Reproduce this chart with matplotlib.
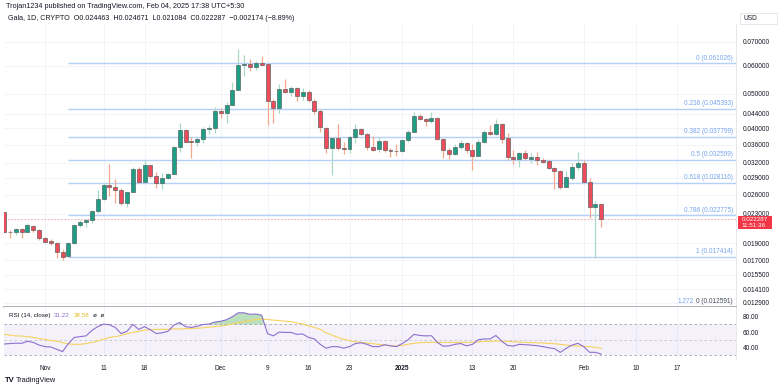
import numpy as np
import pandas as pd
import matplotlib
matplotlib.use("Agg")
import matplotlib.pyplot as plt
import matplotlib.dates as mdates
from matplotlib.ticker import FixedLocator, FixedFormatter, NullLocator
from matplotlib.patches import Rectangle

plt.rcParams['font.family'] = ['Liberation Sans', 'DejaVu Sans']

# ---------------- data ----------------
dates = pd.date_range('2024-10-25', '2025-02-04', freq='D')

opens = [0.02321, 0.02050, 0.02041, 0.02079, 0.02041, 0.02128, 0.02070,
         0.01961, 0.01927, 0.01899, 0.01798, 0.01745, 0.01899, 0.02138, 0.02180, 0.02208, 0.02345, 0.02525,
         0.02765, 0.02729, 0.02682, 0.02461, 0.02643, 0.03073, 0.02831, 0.03154, 0.02937, 0.02816, 0.02905,
         0.02980, 0.03535, 0.03957, 0.03685, 0.03654, 0.03726, 0.03975, 0.04002,
         0.04485, 0.04409, 0.04653, 0.05128, 0.06019, 0.06070, 0.05965, 0.06109, 0.06058, 0.04785, 0.04573,
         0.05162, 0.05072, 0.05206, 0.04943, 0.05070, 0.04785, 0.04485, 0.04017, 0.03526, 0.03750, 0.03513,
         0.03492, 0.03789, 0.03975, 0.03856, 0.03537, 0.03492, 0.03685, 0.03476, 0.03461,
         0.03454, 0.03708, 0.03914, 0.04333, 0.04250, 0.04195, 0.04287, 0.03726, 0.03476, 0.03387, 0.03551,
         0.03644, 0.03476, 0.03350, 0.03654, 0.03914, 0.03856, 0.04114, 0.03750, 0.03328, 0.03273, 0.03416,
         0.03285, 0.03314, 0.03265, 0.03237, 0.03088, 0.03040, 0.02740, 0.02894, 0.03107,
         0.03201, 0.02831, 0.02398, 0.024463]
highs = [0.02326, 0.02070, 0.02101, 0.02093, 0.02161, 0.02138, 0.02083,
         0.01974, 0.01949, 0.01911, 0.01826, 0.01919, 0.02147, 0.02208, 0.02227, 0.02356, 0.02682, 0.02801,
         0.03175, 0.02880, 0.02712, 0.02653, 0.03120, 0.03107, 0.03258, 0.03160, 0.03020, 0.02989, 0.03000,
         0.03567, 0.04149, 0.03975, 0.03789, 0.03789, 0.04027, 0.04088, 0.04603,
         0.04555, 0.04755, 0.05413, 0.06677, 0.06434, 0.06257, 0.06201, 0.06393, 0.06060, 0.04828, 0.05332,
         0.05496, 0.05263, 0.05240, 0.05195, 0.05128, 0.04828, 0.04534, 0.04027, 0.03789, 0.04114, 0.03669,
         0.03806, 0.04114, 0.04001, 0.03873, 0.03806, 0.03774, 0.03708, 0.03513, 0.03607,
         0.03726, 0.03957, 0.04438, 0.04390, 0.04287, 0.04455, 0.04313, 0.03750, 0.03513, 0.03614, 0.03708,
         0.03669, 0.03607, 0.03726, 0.03957, 0.04088, 0.04241, 0.04133, 0.03873, 0.03476, 0.03438, 0.03476,
         0.03402, 0.03438, 0.03294, 0.03258, 0.03104, 0.03053, 0.03034, 0.03201, 0.03438,
         0.03258, 0.02894, 0.02502, 0.024671]
lows = [0.02030, 0.01964, 0.02000, 0.01961, 0.02040, 0.02047, 0.01940,
        0.01911, 0.01881, 0.01723, 0.01704, 0.01740, 0.01895, 0.02114, 0.02114, 0.02166, 0.02311, 0.02514,
        0.02580, 0.02461, 0.02434, 0.02407, 0.02640, 0.02801, 0.02825, 0.02894, 0.02712, 0.02700, 0.02875,
        0.02975, 0.03438, 0.03665, 0.03294, 0.03567, 0.03631, 0.03848, 0.03873,
        0.04269, 0.04133, 0.04650, 0.05120, 0.05616, 0.05812, 0.05838, 0.06020, 0.04088, 0.04133, 0.04409,
        0.05039, 0.04933, 0.04785, 0.04807, 0.04755, 0.04390, 0.03914, 0.03416, 0.02956, 0.03476, 0.03387,
        0.03402, 0.03631, 0.03831, 0.03476, 0.03461, 0.03438, 0.03438, 0.03328, 0.03343,
        0.03430, 0.03669, 0.03898, 0.04222, 0.04069, 0.04133, 0.03708, 0.03294, 0.03279, 0.03365, 0.03490,
        0.03416, 0.03053, 0.03340, 0.03631, 0.03831, 0.03831, 0.03631, 0.03258, 0.03168, 0.03104, 0.03258,
        0.03201, 0.03154, 0.03189, 0.03068, 0.02694, 0.02694, 0.02730, 0.02862, 0.03053,
        0.02820, 0.02232, 0.01730, 0.021084]
closes = [0.02039, 0.02043, 0.02079, 0.02041, 0.02134, 0.02070, 0.01961,
          0.01919, 0.01899, 0.01798, 0.01741, 0.01899, 0.02138, 0.02180, 0.02208, 0.02345, 0.02525, 0.02765,
          0.02740, 0.02682, 0.02461, 0.02643, 0.03073, 0.02831, 0.03154, 0.02943, 0.02816, 0.02899, 0.02975,
          0.03537, 0.03957, 0.03669, 0.03654, 0.03733, 0.03975, 0.04017, 0.04485,
          0.04409, 0.04653, 0.05128, 0.06031, 0.06070, 0.05965, 0.06121, 0.06042, 0.04785, 0.04573, 0.05152,
          0.05072, 0.05206, 0.04943, 0.05079, 0.04807, 0.04485, 0.04027, 0.03513, 0.03750, 0.03513, 0.03499,
          0.03789, 0.03975, 0.03856, 0.03537, 0.03484, 0.03685, 0.03476, 0.03454, 0.03448,
          0.03708, 0.03914, 0.04343, 0.04250, 0.04203, 0.04287, 0.03726, 0.03476, 0.03387, 0.03551, 0.03644,
          0.03476, 0.03350, 0.03654, 0.03914, 0.03856, 0.04114, 0.03733, 0.03328, 0.03273, 0.03416, 0.03294,
          0.03314, 0.03258, 0.03223, 0.03088, 0.03034, 0.02740, 0.02912, 0.03107, 0.03201,
          0.02831, 0.02398, 0.02446, 0.022287]

rsi = [44.4, 45.0, 45.5, 45.3, 48.0, 46.5, 43.0,
       41.0, 40.5, 37.5, 34.5, 45.0, 53.0, 54.0, 55.0, 62.0, 67.0, 70.3,
       69.5, 66.0, 58.0, 61.0, 69.8, 63.5, 67.0, 63.0, 58.0, 59.0, 61.0,
       69.0, 72.5, 67.0, 66.0, 67.5, 69.8, 70.3, 73.0,
       74.0, 76.0, 80.0, 85.0, 85.0, 83.0, 83.5, 82.0, 58.0, 55.0, 60.0,
       59.5, 59.5, 57.0, 57.5, 53.0, 51.0, 44.0, 39.0, 41.0, 41.0, 39.0,
       41.0, 45.0, 46.0, 44.0, 41.0, 41.0, 43.5, 42.0, 41.0,
       45.0, 50.0, 57.0, 55.5, 55.0, 55.2, 46.5, 41.5, 42.0, 44.0, 45.0,
       42.0, 44.0, 50.0, 51.0, 51.0, 55.5, 48.0, 42.5, 41.8, 44.0, 43.5,
       43.0, 42.2, 41.0, 39.5, 38.5, 33.6, 38.8, 43.0, 45.3,
       41.0, 33.6, 33.6, 31.22]
rsi_ma = [57.0, 56.0, 55.0, 54.8, 54.0, 53.0, 51.5,
          50.5, 49.0, 48.0, 46.0, 44.5, 44.0, 44.0, 45.0, 46.5, 48.3, 50.5,
          53.0, 54.0, 55.5, 58.0, 59.5, 61.0, 62.5, 63.0, 63.5, 63.5, 63.5,
          64.0, 64.0, 64.3, 64.7, 65.0, 65.5, 66.5, 67.0,
          67.8, 69.0, 70.5, 72.0, 73.5, 75.0, 76.3, 77.0, 76.3, 75.5, 75.0,
          74.0, 73.5, 72.0, 70.5, 68.0, 66.0, 63.5, 59.0, 56.0, 53.0, 50.5,
          48.7, 47.4, 46.5, 45.7, 44.8, 44.0, 43.1, 42.2, 41.8,
          42.6, 44.0, 45.3, 46.1, 46.5, 46.5, 46.5, 46.5, 46.5, 46.5, 46.5,
          46.6, 46.8, 47.2, 47.7, 48.0, 48.3, 48.2, 47.8, 47.4, 47.0, 46.5,
          46.3, 46.0, 45.7, 45.3, 44.8, 44.0, 43.1, 42.2, 41.8,
          41.3, 40.9, 40.0, 38.58]

fib_ratios = ['0', '0.236', '0.382', '0.5', '0.618', '0.786', '1']
fib_prices = [0.061026, 0.045393, 0.037799, 0.032599, 0.028116, 0.022775, 0.017414]
fib_start = '2024-11-05'
fib_ext_ratio = '1.272'
fib_ext_price = 0.012591

price_ticks = [0.070, 0.060, 0.050, 0.044, 0.040, 0.036, 0.032, 0.029, 0.026,
               0.023, 0.019, 0.017, 0.0155, 0.0141, 0.0129]
rsi_ticks = [80, 60, 40]
rsi_levels = [70, 50, 30]

date_ticks = ['2024-11-01', '2024-11-11', '2024-11-18', '2024-12-01', '2024-12-09',
              '2024-12-16', '2024-12-23', '2025-01-01', '2025-01-13', '2025-01-20',
              '2025-02-01', '2025-02-10', '2025-02-17']
date_labels = ['Nov', '11', '18', 'Dec', '9', '16', '23', '2025', '13', '20', 'Feb', '10', '17']

last_price = closes[-1]

# ---------------- style ----------------
UP = '#1f9e86'
DOWN = '#ef4b5b'
UP_WICK = '#a9d8c3'
DOWN_WICK = '#f4a98d'
EDGE = '#4f5b5b'
GRID = '#f0f3fa'
FIB_LINE = '#b5d0f6'
FIB_TXT = '#76a5ee'
TXT = '#131722'
FS = 4.7

W, H = 783, 388
fig = plt.figure(figsize=(W / 100, H / 100), dpi=100)
fig.patch.set_facecolor('white')


def frac(x0, y0, x1, y1):
    return [x0 / W, 1 - y1 / H, (x1 - x0) / W, (y1 - y0) / H]


ax = fig.add_axes(frac(4, 24, 736, 307))
axr = fig.add_axes(frac(4, 307, 736, 359), sharex=ax)

xd = mdates.date2num(dates)
o = np.array(opens); h = np.array(highs); l = np.array(lows); c = np.array(closes)
up = c >= o

x_left = mdates.date2num(pd.Timestamp('2024-10-25'))
x_right = mdates.date2num(pd.Timestamp('2025-02-27'))
tick_nums = mdates.date2num(pd.to_datetime(date_ticks))

# ---------------- price pane ----------------
ax.set_yscale('log')
ax.set_xlim(x_left, x_right)
ax.set_ylim(0.012569, 0.07866)

for t in price_ticks:
    ax.axhline(t, color=GRID, lw=0.6, zorder=0)
for t in tick_nums:
    ax.axvline(t, color=GRID, lw=0.6, zorder=0)

ax.vlines(xd[up], l[up], h[up], color=UP_WICK, lw=0.9, zorder=2)
ax.vlines(xd[~up], l[~up], h[~up], color=DOWN_WICK, lw=0.9, zorder=2)
bw = 0.68
ax.bar(xd[up], c[up] - o[up], bottom=o[up], width=bw, color=UP, edgecolor=EDGE, lw=0.45, zorder=3)
ax.bar(xd[~up], o[~up] - c[~up], bottom=c[~up], width=bw, color=DOWN, edgecolor=EDGE, lw=0.45, zorder=3)

# fib levels
fx0 = mdates.date2num(pd.Timestamp(fib_start))
for r_, p in zip(fib_ratios, fib_prices):
    ax.hlines(p, fx0, x_right, color=FIB_LINE, lw=1.0, zorder=1)
    ax.annotate(f'{r_} ({p:.6f})', xy=(1, p), xycoords=('axes fraction', 'data'),
                xytext=(-2.2, 1.2), textcoords='offset points', ha='right', va='bottom',
                fontsize=FS, color=FIB_TXT, zorder=4)
t0 = ax.annotate(f'0 ({fib_ext_price:.6f})', xy=(1, fib_ext_price), xycoords=('axes fraction', 'data'),
                 xytext=(-2.2, 1.4), textcoords='offset points', ha='right', va='bottom',
                 fontsize=FS, color='#4a4e5a', zorder=4)
ax.annotate(fib_ext_ratio, xy=(0, 0), xycoords=t0, xytext=(-1.5, 0), textcoords='offset points',
            ha='right', va='bottom', fontsize=FS, color=FIB_TXT, zorder=4)

# last price line
ax.axhline(last_price, color='#f59aa3', lw=0.6, ls=(0, (2, 2)), zorder=1)

ax.yaxis.tick_right()
ax.yaxis.set_major_locator(FixedLocator(price_ticks))
ax.yaxis.set_major_formatter(FixedFormatter([f'{t:.6f}' for t in price_ticks]))
ax.yaxis.set_minor_locator(NullLocator())
ax.tick_params(axis='y', length=0, pad=5, labelsize=FS, labelcolor=TXT)
ax.set_xticks(tick_nums)
ax.tick_params(axis='x', length=0, labelbottom=False)
for s in ['top', 'left']:
    ax.spines[s].set_visible(False)
ax.spines['right'].set_color('#e0e3eb')
ax.spines['right'].set_linewidth(0.6)
ax.spines['bottom'].set_color('#a3a6af')
ax.spines['bottom'].set_linewidth(1.2)

# ---------------- RSI pane ----------------
r = np.array(rsi)
axr.set_ylim(24.9, 92.6)
for t in tick_nums:
    axr.axvline(t, color=GRID, lw=0.6, zorder=0)
axr.fill_between([x_left, x_right], rsi_levels[2], rsi_levels[0], color='#7e57c2', alpha=0.08, lw=0, zorder=0)
for lv in rsi_levels:
    axr.axhline(lv, color='#a3a6af' if lv != 50 else '#c3c5cc', lw=0.6, ls=(0, (3, 3)), zorder=1)
axr.fill_between(xd, rsi_levels[0], r, where=r > rsi_levels[0], interpolate=True,
                 color='#4caf50', alpha=0.38, lw=0, zorder=2)
axr.plot(xd, rsi_ma, color='#f6d35e', lw=0.8, zorder=3)
axr.plot(xd, r, color='#8c6fd0', lw=0.8, zorder=4)

axr.yaxis.tick_right()
axr.set_yticks(rsi_ticks)
axr.set_yticklabels([f'{t:.2f}' for t in rsi_ticks])
axr.tick_params(axis='y', length=0, pad=5, labelsize=FS, labelcolor=TXT)
axr.set_xticks(tick_nums)
axr.set_xticklabels(date_labels)
axr.tick_params(axis='x', length=0, pad=4, labelsize=FS, labelcolor=TXT)
for lab in axr.get_xticklabels():
    if lab.get_text() == '2025':
        lab.set_fontweight('bold')
for s in ['top', 'left', 'bottom']:
    axr.spines[s].set_visible(False)
axr.spines['right'].set_color('#e0e3eb')
axr.spines['right'].set_linewidth(0.6)
axr.set_xlim(x_left, x_right)

RFS = 4.5
a1 = axr.text(0.007, 0.84, 'RSI (14, close)', transform=axr.transAxes, fontsize=RFS, color=TXT, va='center')
a2 = axr.annotate(f'{rsi[-1]:.2f}', xy=(1, 0.5), xycoords=a1, xytext=(2.5, 0), textcoords='offset points',
                  fontsize=RFS, color='#8c6fd0', va='center', ha='left')
a3 = axr.annotate(f'{rsi_ma[-1]:.2f}', xy=(1, 0.5), xycoords=a2, xytext=(2.5, 0), textcoords='offset points',
                  fontsize=RFS, color='#e8b923', va='center', ha='left')
axr.annotate('ø  ø', xy=(1, 0.5), xycoords=a3, xytext=(2.5, 0), textcoords='offset points',
             fontsize=RFS, color=TXT, va='center', ha='left')

# ---------------- header / decorations ----------------
fig.text(6 / W, 1 - 7 / H, 'Trojan1234 published on TradingView.com, Feb 04, 2025 17:38 UTC+5:30',
         fontsize=5.2, color=TXT, va='center')
fig.text(8 / W, 1 - 19 / H,
         'Gala, 1D, CRYPTO  O0.024463  H0.024671  L0.021084  C0.022287  \u22120.002174 (\u22128.89%)',
         fontsize=5.1, color=TXT, va='center')

fig.patches.append(Rectangle((740 / W, 1 - 24 / H), 37 / W, 11 / H, transform=fig.transFigure,
                             facecolor='white', edgecolor='#e0e3eb', lw=0.6, zorder=10))
fig.text(744 / W, 1 - 18.5 / H, 'USD', fontsize=FS, color=TXT, va='center', zorder=11)

fig.patches.append(Rectangle((738 / W, 1 - 229 / H), 34 / W, 13 / H, transform=fig.transFigure,
                             facecolor='#f23645', edgecolor='none', zorder=10))
fig.text(741.5 / W, 1 - 219.6 / H, f'{last_price:.6f}', fontsize=4.5, color='white', va='center', zorder=11)
fig.text(741.5 / W, 1 - 225.4 / H, '11:51:36', fontsize=4.5, color='white', va='center', zorder=11)

fig.text(5 / W, 1 - 380 / H, 'TV', fontsize=5.5, color=TXT, fontweight='bold', va='center')
fig.text(16 / W, 1 - 380 / H, 'TradingView', fontsize=5.3, color=TXT, va='center')

fig.savefig('out.png', dpi=100, facecolor='white')
